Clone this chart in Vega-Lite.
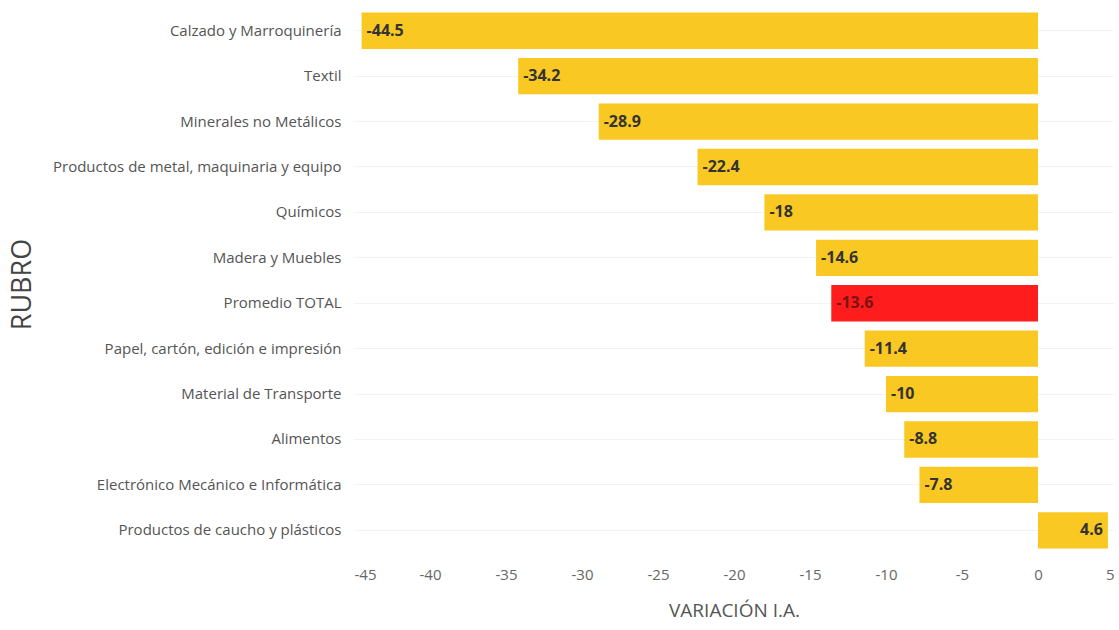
{
  "$schema": "https://vega.github.io/schema/vega-lite/v6.json",
  "width": 760,
  "height": 545,
  "autosize": {"type": "none"},
  "padding": {"left": 354, "top": 8, "right": 5, "bottom": 77},
  "background": "white",
  "config": {"view": {"stroke": null}, "font": "Open Sans"},
  "data": {
    "values": [
      {"rubro": "Calzado y Marroquinería", "var": -44.5, "tipo": "rubro"},
      {"rubro": "Textil", "var": -34.2, "tipo": "rubro"},
      {"rubro": "Minerales no Metálicos", "var": -28.9, "tipo": "rubro"},
      {"rubro": "Productos de metal, maquinaria y equipo", "var": -22.4, "tipo": "rubro"},
      {"rubro": "Químicos", "var": -18, "tipo": "rubro"},
      {"rubro": "Madera y Muebles", "var": -14.6, "tipo": "rubro"},
      {"rubro": "Promedio TOTAL", "var": -13.6, "tipo": "total"},
      {"rubro": "Papel, cartón, edición e impresión", "var": -11.4, "tipo": "rubro"},
      {"rubro": "Material de Transporte", "var": -10, "tipo": "rubro"},
      {"rubro": "Alimentos", "var": -8.8, "tipo": "rubro"},
      {"rubro": "Electrónico Mecánico e Informática", "var": -7.8, "tipo": "rubro"},
      {"rubro": "Productos de caucho y plásticos", "var": 4.6, "tipo": "rubro"}
    ]
  },
  "transform": [{"calculate": "toString(datum.var)", "as": "lbl"}],
  "encoding": {
    "y": {
      "field": "rubro",
      "type": "nominal",
      "sort": null,
      "scale": {"paddingInner": 0.2, "paddingOuter": 0.1},
      "axis": {
        "title": "RUBRO",
        "titleFontSize": 27,
        "titleFontWeight": "normal",
        "titleColor": "#444444",
        "titleAngle": -90,
        "titleX": -332,
        "titleY": 276,
        "titleAlign": "center",
        "titleBaseline": "middle",
        "labelFontSize": 15,
        "labelColor": "#555555",
        "labelPadding": 13,
        "labelLimit": 0,
        "ticks": false,
        "domain": false,
        "grid": true,
        "gridColor": "#f3f3f3",
        "gridWidth": 1
      }
    }
  },
  "layer": [
    {
      "mark": {"type": "bar"},
      "encoding": {
        "x": {
          "field": "var",
          "type": "quantitative",
          "scale": {"domain": [-45, 5], "nice": false},
          "axis": {
            "title": "VARIACIÓN I.A.",
            "titleFontSize": 19,
            "titleFontWeight": "normal",
            "titleColor": "#555555",
            "titlePadding": 19,
            "values": [-45, -40, -35, -30, -25, -20, -15, -10, -5, 0, 5],
            "labelExpr": "replace(datum.label, '−', '-')",
            "labelFontSize": 15,
            "labelColor": "#666666",
            "labelPadding": 14,
            "ticks": false,
            "domain": false,
            "grid": false
          }
        },
        "color": {
          "field": "tipo",
          "type": "nominal",
          "scale": {"domain": ["rubro", "total"], "range": ["#F9C823", "#FF1C1C"]},
          "legend": null
        }
      }
    },
    {
      "transform": [{"filter": "datum.var < 0"}],
      "mark": {"type": "text", "align": "left", "baseline": "middle", "dx": 5, "fontSize": 16, "fontWeight": "bold"},
      "encoding": {
        "x": {"field": "var", "type": "quantitative"},
        "text": {"field": "lbl", "type": "nominal"},
        "color": {
          "field": "tipo",
          "type": "nominal",
          "scale": {"domain": ["rubro", "total"], "range": ["#333333", "#7a1212"]},
          "legend": null
        }
      }
    },
    {
      "transform": [{"filter": "datum.var >= 0"}],
      "mark": {"type": "text", "align": "right", "baseline": "middle", "dx": -5, "fontSize": 16, "fontWeight": "bold", "color": "#333333"},
      "encoding": {
        "x": {"field": "var", "type": "quantitative"},
        "text": {"field": "lbl", "type": "nominal"}
      }
    }
  ],
  "resolve": {"scale": {"color": "independent"}}
}
